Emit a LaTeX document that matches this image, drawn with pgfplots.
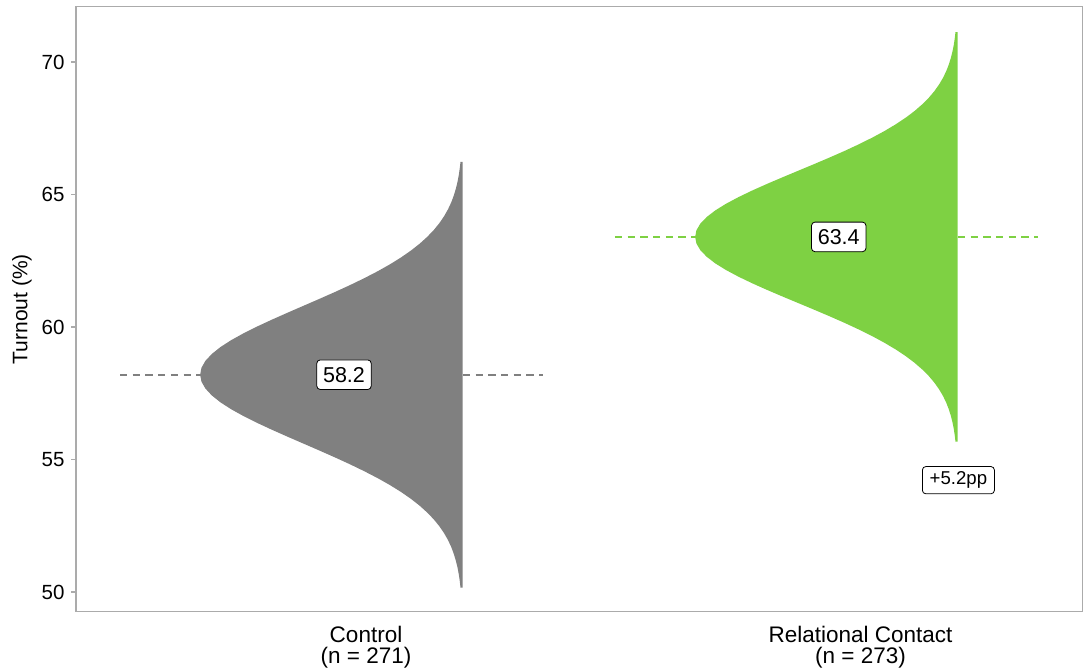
\documentclass[border=0pt]{standalone}
\usepackage{fontspec}
\setmainfont{Liberation Sans}
\usepackage{pgfplots}
\pgfplotsset{compat=1.18}

\definecolor{ctrlgray}{HTML}{808080}
\definecolor{relgreen}{HTML}{7ED143}
\definecolor{framegray}{HTML}{ABABAB}

\begin{document}
\begin{tikzpicture}
\path[use as bounding box] (0,0) rectangle (1084pt,669pt);
\begin{axis}[
  at={(76pt,57.3pt)}, anchor=south west,
  scale only axis, width=1006.7pt, height=605pt,
  xmin=0.4135, xmax=2.4494, ymin=49.257, ymax=72.087,
  axis line style={draw=framegray, line width=1.3pt},
  tick pos=left,
  xtick={1,2},
  xticklabels={Control\\(n = 271), Relational Contact\\(n = 273)},
  xtick style={draw=none},
  ytick={50,55,60,65,70},
  ytick style={draw=framegray, line width=1.3pt},
  tick align=outside, major tick length=5pt,
  xticklabel style={font=\fontsize{22.5}{20.6}\selectfont, align=center, text=black, yshift=-6pt},
  yticklabel style={font=\fontsize{20.5}{24}\selectfont, text=black, xshift=-3pt},
  /pgf/number format/assume math mode=true,
  every axis y label/.style={at={(axis description cs:-0.0536,0.5)}, rotate=90, anchor=center},
  ylabel={Turnout (\%)},
  ylabel style={font=\fontsize{21}{25}\selectfont},
]

% reference lines at each group's estimate
\addplot[ctrlgray, line width=1.6pt, dash pattern=on 7.3pt off 5.4pt] coordinates {(0.5025,58.2) (1.358,58.2)};
\addplot[relgreen, line width=1.6pt, dash pattern=on 7.3pt off 5.4pt] coordinates {(1.5035,63.4) (2.359,63.4)};

% Control: half-eye slab of the sampling distribution (mean 58.2)
\addplot[fill=ctrlgray, draw=none] coordinates {
(1.1956,66.234)
(1.1911,66.234) (1.1897,66.0) (1.1877,65.74) (1.1851,65.48) (1.1817,65.22) (1.1775,64.96)
(1.1723,64.7) (1.1658,64.44) (1.1579,64.18) (1.1484,63.92) (1.1371,63.66) (1.1237,63.4)
(1.1083,63.14) (1.0905,62.88) (1.0704,62.62) (1.0480,62.36) (1.0232,62.1) (0.9963,61.84)
(0.9675,61.58) (0.9371,61.32) (0.9056,61.06) (0.8735,60.8) (0.8414,60.54) (0.8100,60.28)
(0.7800,60.02) (0.7521,59.76) (0.7270,59.5) (0.7054,59.24) (0.6880,58.98) (0.6751,58.72)
(0.6672,58.46) (0.6646,58.2)
(0.6672,57.94) (0.6751,57.68) (0.6880,57.42) (0.7054,57.16) (0.7270,56.9) (0.7521,56.64)
(0.7800,56.38) (0.8100,56.12) (0.8414,55.86) (0.8735,55.6) (0.9056,55.34) (0.9371,55.08)
(0.9675,54.82) (0.9963,54.56) (1.0232,54.3) (1.0480,54.04) (1.0704,53.78) (1.0905,53.52)
(1.1083,53.26) (1.1237,53.0) (1.1371,52.74) (1.1484,52.48) (1.1579,52.22) (1.1658,51.96)
(1.1723,51.7) (1.1775,51.44) (1.1817,51.18) (1.1851,50.92) (1.1877,50.66) (1.1897,50.4)
(1.1911,50.166)
(1.1956,50.166)
};

% Relational Contact: half-eye slab (mean 63.4)
\addplot[fill=relgreen, draw=none] coordinates {
(2.1966,71.125)
(2.1921,71.125) (2.1907,70.9) (2.1887,70.65) (2.1861,70.4) (2.1827,70.15) (2.1785,69.9)
(2.1733,69.65) (2.1668,69.4) (2.1589,69.15) (2.1494,68.9) (2.1381,68.65) (2.1247,68.4)
(2.1093,68.15) (2.0915,67.9) (2.0714,67.65) (2.0490,67.4) (2.0242,67.15) (1.9973,66.9)
(1.9685,66.65) (1.9381,66.4) (1.9066,66.15) (1.8745,65.9) (1.8424,65.65) (1.8110,65.4)
(1.7810,65.15) (1.7531,64.9) (1.7280,64.65) (1.7064,64.4) (1.6890,64.15) (1.6761,63.9)
(1.6682,63.65) (1.6656,63.4)
(1.6682,63.15) (1.6761,62.9) (1.6890,62.65) (1.7064,62.4) (1.7280,62.15) (1.7531,61.9)
(1.7810,61.65) (1.8110,61.4) (1.8424,61.15) (1.8745,60.9) (1.9066,60.65) (1.9381,60.4)
(1.9685,60.15) (1.9973,59.9) (2.0242,59.65) (2.0490,59.4) (2.0714,59.15) (2.0915,58.9)
(2.1093,58.65) (2.1247,58.4) (2.1381,58.15) (2.1494,57.9) (2.1589,57.65) (2.1668,57.4)
(2.1733,57.15) (2.1785,56.9) (2.1827,56.65) (2.1861,56.4) (2.1887,56.15) (2.1907,55.9)
(2.1921,55.675)
(2.1966,55.675)
};

% value labels
\tikzset{vlab/.style={draw=black, line width=0.8pt, fill=white, rounded corners=3.5pt,
  font=\fontsize{21.5}{25}\selectfont, inner xsep=6.3pt, inner ysep=7pt,
  text height=15.6pt, text depth=0pt}}
\node[vlab] at (axis cs:0.9555,58.2) {58.2};
\node[vlab] at (axis cs:1.956,63.4) {63.4};
\node[draw=black, line width=0.8pt, fill=white, rounded corners=3.5pt,
  font=\fontsize{18.6}{22}\selectfont, inner xsep=7.3pt, inner ysep=5pt,
  text height=13.4pt, text depth=3.9pt] at (axis cs:2.198,54.22) {+5.2pp};
\end{axis}
\end{tikzpicture}
\end{document}
